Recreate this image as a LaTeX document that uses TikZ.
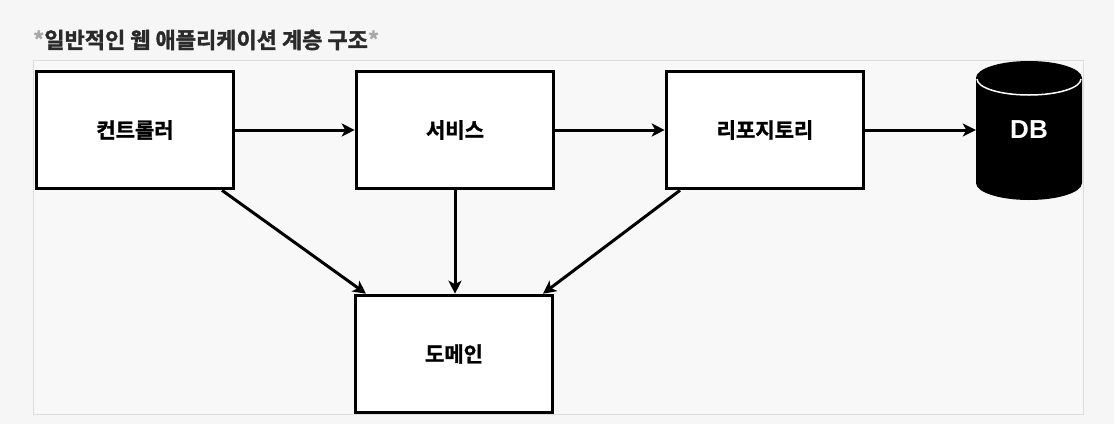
\documentclass[tikz,border=0pt]{standalone}
\usepackage{fontspec}
\newfontfamily\krb[FakeBold=1.5]{Noto Sans CJK KR Bold}
\newfontfamily\lsans{Liberation Sans Bold}
\usetikzlibrary{arrows.meta}
\definecolor{bgc}{HTML}{F6F6F6}
\definecolor{framec}{HTML}{DCDCDC}
\definecolor{inner}{HTML}{F8F8F8}
\definecolor{titlec}{HTML}{2A2A2A}
\definecolor{starc}{HTML}{A8A8A8}
\begin{document}
\begin{tikzpicture}[x=1pt,y=-1pt,
  layerbox/.style={draw=black,line width=3.6pt,fill=white,minimum width=197pt,minimum height=117pt,inner sep=0pt,font=\krb\fontsize{21}{24}\selectfont},
  conn/.style={line width=3pt,-{Stealth[length=13pt,width=13pt,inset=3.5pt]}}]
\useasboundingbox (0,0) rectangle (1114,424);
\fill[bgc] (0,0) rectangle (1114,424);
\draw[framec,fill=inner,line width=1pt] (33,60) rectangle (1083,414);
\node[anchor=west,inner sep=0pt,font=\krb\fontsize{22}{26}\selectfont] (title) at (33,40) {\textcolor{starc}{*}\textcolor{titlec}{일반적인 웹 애플리케이션 계층 구조}\textcolor{starc}{*}};
\node[layerbox] (ctrl) at (135,130) {컨트롤러};
\node[layerbox] (svc) at (455,130) {서비스};
\node[layerbox] (repo) at (765,130) {리포지토리};
\node[layerbox] (dom) at (454,354) {도메인};
% DB cylinder
\fill[black] (976,78) -- (976,183) arc[start angle=180,end angle=0,x radius=53,y radius=17] -- (1082,78) arc[start angle=0,end angle=-180,x radius=53,y radius=17] -- cycle;
\draw[white,line width=1.5pt] (977,79) arc[start angle=180,end angle=0,x radius=52,y radius=16];
\node[inner sep=0pt,minimum width=106pt,minimum height=140pt,text=white,font=\lsans\fontsize{26}{30}\selectfont] (db) at (1029,130) {DB};
\draw[conn] (ctrl.east) -- (svc.west);
\draw[conn] (svc.east) -- (repo.west);
\draw[conn] (repo.east) -- (db.west);
\draw[conn] ([xshift=87pt]ctrl.south) -- ([xshift=-88pt]dom.north);
\draw[conn] (svc.south) -- (svc.south |- dom.north);
\draw[conn] ([xshift=-85pt]repo.south) -- ([xshift=89pt]dom.north);
\end{tikzpicture}
\end{document}
